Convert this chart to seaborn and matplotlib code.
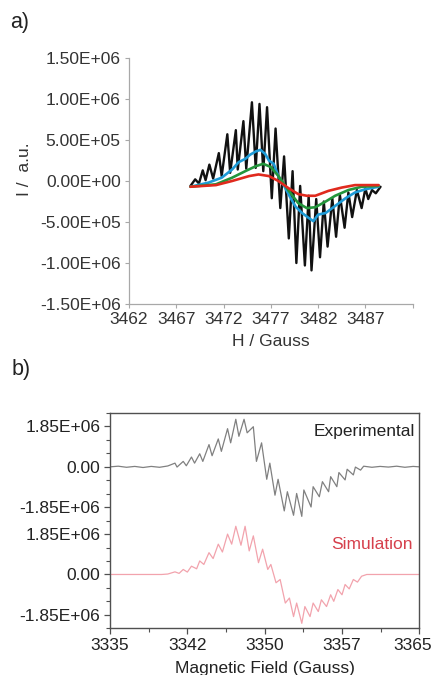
import numpy as np
import pandas as pd
import matplotlib
matplotlib.use('Agg')
import matplotlib.pyplot as plt
import matplotlib.transforms as mtransforms
import seaborn as sns

# panel a) - field in Gauss, intensity in 1e6 a.u. (peaks/troughs read off the picture)
a_black_x = [3468.5, 3469.0, 3469.4, 3469.8, 3470.1, 3470.5, 3470.9, 3471.5, 3471.8, 3472.4,
             3472.7, 3473.3, 3473.5, 3474.1, 3474.4, 3475.0, 3475.4, 3475.8, 3476.2, 3476.6,
             3477.1, 3477.5, 3478.0, 3478.4, 3478.9, 3479.3, 3479.7, 3480.1, 3480.6, 3481.0,
             3481.3, 3481.8, 3482.2, 3482.6, 3483.0, 3483.5, 3483.9, 3484.3, 3484.8, 3485.2,
             3485.6, 3486.1, 3486.6, 3487.0, 3487.3, 3487.7, 3488.1, 3488.6]
a_black_y = [-0.06, 0.02, -0.03, 0.13, 0.01, 0.20, 0.03, 0.34, 0.06, 0.57,
             0.10, 0.62, 0.14, 0.73, 0.15, 0.96, 0.16, 0.94, 0.12, 0.90,
             -0.21, 0.64, -0.33, 0.30, -0.70, 0.12, -1.00, -0.06, -1.03, -0.18,
             -1.09, -0.22, -0.93, -0.25, -0.80, -0.21, -0.68, -0.17, -0.57, -0.14,
             -0.44, -0.11, -0.33, -0.09, -0.22, -0.11, -0.15, -0.07]

a_blue_x = [3468.5, 3470.4, 3471.8, 3472.9, 3473.6, 3474.3, 3474.8, 3475.4, 3475.9, 3476.4,
            3476.8, 3477.3, 3477.8, 3478.5, 3479.1, 3479.6, 3480.3, 3481.0, 3481.5, 3482.0,
            3482.8, 3483.5, 3484.2, 3484.9, 3485.9, 3487.0, 3488.4]
a_blue_y = [-0.07, -0.02, 0.04, 0.14, 0.23, 0.27, 0.32, 0.36, 0.38, 0.33,
            0.25, 0.21, 0.06, -0.08, -0.21, -0.31, -0.39, -0.45, -0.49, -0.41,
            -0.39, -0.33, -0.27, -0.21, -0.14, -0.10, -0.07]

a_green_x = [3468.5, 3471.2, 3472.9, 3474.3, 3475.4, 3476.2, 3477.0, 3477.8, 3478.9, 3479.9,
             3480.8, 3481.7, 3482.8, 3483.8, 3485.2, 3486.6, 3488.4]
a_green_y = [-0.07, -0.04, 0.04, 0.12, 0.18, 0.21, 0.17, 0.06, -0.12, -0.27,
             -0.33, -0.32, -0.25, -0.18, -0.11, -0.07, -0.06]

a_red_x = [3468.5, 3471.2, 3472.9, 3474.7, 3475.7, 3476.8, 3477.8, 3478.9, 3479.9, 3480.8,
           3481.7, 3483.1, 3484.5, 3485.9, 3488.4]
a_red_y = [-0.07, -0.05, 0.00, 0.06, 0.08, 0.06, 0.00, -0.09, -0.16, -0.18,
           -0.18, -0.12, -0.08, -0.05, -0.05]

a_xticks = [3462, 3467, 3472, 3477, 3482, 3487, 3492]
a_xlabels = ['3462', '3467', '3472', '3477', '3482', '3487', '']
a_yticks = [-1.5e6, -1.0e6, -0.5e6, 0.0, 0.5e6, 1.0e6, 1.5e6]

# panel b) - experimental and simulated spectrum (1e6 units)
b_exp_x = [3335.0, 3335.8, 3336.6, 3337.4, 3338.2, 3339.0, 3339.8, 3340.6,
           3341.3, 3341.5, 3342.1, 3342.4, 3342.9, 3343.2, 3343.7, 3344.0, 3344.6, 3344.9,
           3345.5, 3345.8, 3346.4, 3346.7, 3347.2, 3347.5, 3348.0, 3348.3, 3348.9, 3349.2,
           3349.7, 3350.2, 3350.5, 3351.0, 3351.3, 3351.9, 3352.2, 3352.8, 3353.1, 3353.6,
           3353.8, 3354.5, 3354.7, 3355.3, 3355.6, 3356.2, 3356.4, 3357.0, 3357.2, 3357.8,
           3358.0, 3358.6, 3358.8, 3359.3, 3359.6,
           3360.4, 3361.2, 3362.0, 3362.8, 3363.6, 3364.4, 3365.0]
b_exp_y = [0.00, 0.03, -0.02, 0.02, -0.03, 0.02, -0.02, 0.04,
           0.17, -0.01, 0.25, 0.05, 0.45, 0.17, 0.60, 0.25, 1.02, 0.51,
           1.28, 0.71, 1.75, 1.10, 2.18, 1.40, 2.18, 1.56, 1.84, 0.25,
           1.10, -0.57, 0.17, -1.30, -0.57, -2.02, -1.14, -2.22, -1.22, -2.27,
           -1.06, -1.84, -0.91, -1.37, -0.68, -1.14, -0.45, -0.91, -0.26, -0.60,
           -0.11, -0.37, -0.01, -0.15, 0.03,
           -0.02, 0.02, -0.01, 0.03, -0.02, 0.02, 0.00]

b_sim_x = [3335.0, 3340.0, 3340.6,
           3341.3, 3341.7, 3342.1, 3342.5, 3342.9, 3343.4, 3343.7, 3344.1, 3344.6, 3345.0,
           3345.5, 3345.9, 3346.4, 3346.8, 3347.2, 3347.7, 3348.1, 3348.5, 3348.9, 3349.4,
           3349.8, 3350.3, 3350.6, 3351.1, 3351.5, 3352.0, 3352.4, 3352.8, 3353.1, 3353.6,
           3353.9, 3354.4, 3354.7, 3355.2, 3355.5, 3356.0, 3356.4, 3356.7, 3357.1, 3357.5,
           3357.8, 3358.2, 3358.6, 3359.0, 3359.4, 3359.9, 3365.0]
b_sim_y = [0.00, 0.00, 0.02,
           0.12, 0.05, 0.23, 0.11, 0.38, 0.26, 0.62, 0.46, 1.00, 0.73,
           1.39, 1.03, 1.85, 1.39, 2.21, 1.34, 2.21, 1.08, 1.77, 0.54,
           1.16, 0.23, 0.46, -0.38, -0.23, -1.31, -1.08, -1.93, -1.31, -2.24,
           -1.47, -1.93, -1.31, -1.70, -1.16, -1.47, -0.93, -1.23, -0.69, -0.93,
           -0.46, -0.66, -0.23, -0.35, -0.08, 0.00, 0.00]

b_step = 1.85e6 / 3          # minor tick spacing on the y axis of b)
b_offset = 8 * b_step        # simulation trace is shifted down by this
b_xticks = [3335, 3342.5, 3350, 3357.5, 3365]
b_xlabels = ['3335', '3342', '3350', '3357', '3365']
b_ylabels = ['1.85E+06', '0.00', '-1.85E+06', '1.85E+06', '0.00', '-1.85E+06']

sns.set_style('ticks')
plt.rcParams['font.family'] = ['Liberation Sans', 'DejaVu Sans']

fig = plt.figure(figsize=(4.34, 6.75), dpi=100)
ax1 = fig.add_axes([0.2972, 0.5496, 0.6537, 0.3645])
ax2 = fig.add_axes([0.2535, 0.0692, 0.7127, 0.3189])

# ---- a)
curves = [(a_black_x, a_black_y, '#111111', 1.7),
          (a_blue_x, a_blue_y, '#1e9bd7', 1.9),
          (a_green_x, a_green_y, '#23963c', 1.9),
          (a_red_x, a_red_y, '#e02a1e', 1.9)]
for xs, ys, col, lw in curves:
    df = pd.DataFrame({'H': xs, 'I': np.array(ys) * 1e6})
    sns.lineplot(data=df, x='H', y='I', color=col, lw=lw, ax=ax1,
                 estimator=None, sort=False)

ax1.set_xlim(3462, 3492)
ax1.set_ylim(-1.5e6, 1.5e6)
ax1.set_xticks(a_xticks)
ax1.set_xticklabels(a_xlabels)
ax1.set_yticks(a_yticks)
ax1.set_yticklabels([f'{v:.2E}' for v in a_yticks])
for s in ['top', 'right']:
    ax1.spines[s].set_visible(False)
for s in ['left', 'bottom']:
    ax1.spines[s].set_color('#a8a8a8')
    ax1.spines[s].set_linewidth(0.9)
ax1.tick_params(length=3, width=0.8, color='#a8a8a8', labelsize=12.5,
                labelcolor='#333333', pad=3)
ax1.set_xlabel('H / Gauss', fontsize=12.5, color='#333333', labelpad=5)
ax1.set_ylabel('I /  a.u.', fontsize=12.5, color='#333333')
ax1.yaxis.set_label_coords(-0.342, 0.55)

# ---- b)
df_exp = pd.DataFrame({'B': b_exp_x, 'I': np.array(b_exp_y) * 1e6})
df_sim = pd.DataFrame({'B': b_sim_x, 'I': np.array(b_sim_y) * 1e6 - b_offset})
sns.lineplot(data=df_exp, x='B', y='I', color='#808080', lw=0.9, ax=ax2,
             estimator=None, sort=False)
sns.lineplot(data=df_sim, x='B', y='I', color='#f2a3ad', lw=0.9, ax=ax2,
             estimator=None, sort=False)

ax2.set_xlim(3335, 3365)
ax2.set_ylim(-12 * b_step, 4 * b_step)
ax2.set_xticks(b_xticks)
ax2.set_xticklabels(b_xlabels)
ax2.set_xticks(np.arange(3335, 3365.1, 3.75), minor=True)
b_yticks = [3 * b_step, 0, -3 * b_step, 3 * b_step - b_offset, -b_offset, -3 * b_step - b_offset]
ax2.set_yticks(b_yticks)
ax2.set_yticklabels(b_ylabels)
ax2.set_yticks(np.arange(-12, 4.5, 1) * b_step, minor=True)
for s in ax2.spines.values():
    s.set_color('#505050')
    s.set_linewidth(1.0)
ax2.tick_params(which='major', length=4, width=0.9, color='#505050',
                labelsize=12.5, labelcolor='#222222', pad=3)
ax2.tick_params(which='minor', length=3, width=0.8, color='#505050')
ax2.set_xlabel('Magnetic Field (Gauss)', fontsize=12.5, color='#222222', labelpad=6)
ax2.set_ylabel('')
# keep the last field label inside the figure
last = ax2.get_xticklabels()[-1]
last.set_transform(last.get_transform() +
                   mtransforms.ScaledTranslation(-5 / 72, 0, fig.dpi_scale_trans))
ax2.text(0.986, 0.912, 'Experimental', transform=ax2.transAxes, ha='right',
         va='center', fontsize=12.5, color='#222222')
ax2.text(0.98, 0.387, 'Simulation', transform=ax2.transAxes, ha='right',
         va='center', fontsize=12.5, color='#d6404c')

fig.text(0.023, 0.966, 'a)', fontsize=15.5, va='center', ha='left', color='#222222')
fig.text(0.027, 0.4533, 'b)', fontsize=15.5, va='center', ha='left', color='#222222')

fig.savefig('out.png', dpi=100)
